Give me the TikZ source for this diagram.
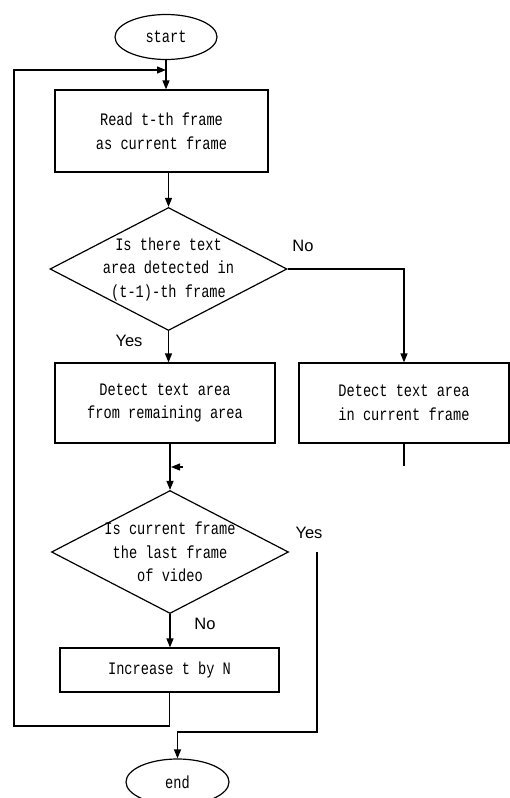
\documentclass[tikz,border=0pt]{standalone}
\usepackage{fontspec}
\setmonofont[FakeStretch=0.78]{Liberation Mono}
\setsansfont{Liberation Sans}
\usetikzlibrary{shapes.geometric,arrows.meta}
\tikzset{my box/.style={draw, line width=1.2pt, inner sep=0pt, align=center, font=\ttfamily\fontsize{17.5}{23.5}\selectfont},
my diamond/.style={draw, line width=1.2pt, diamond, inner sep=0pt, minimum width=237pt, minimum height=123pt},
my diamond text/.style={align=center, font=\ttfamily\fontsize{17.5}{23.5}\selectfont},
my oval/.style={draw, line width=1.2pt, ellipse, inner sep=0pt, minimum width=102pt, minimum height=45pt, font=\ttfamily\fontsize{17.5}{20}\selectfont},
my answer/.style={font=\sffamily\fontsize{16.5}{18}\selectfont},
my line/.style={line width=1.2pt},
my arrow/.style={line width=1.2pt, -{Triangle[length=9pt,width=7pt]}},}

\begin{document}
\begin{tikzpicture}[x=1pt,y=-1pt]
\useasboundingbox (0,0) rectangle (510,798);
\node [my oval] (start) at (166,37) {start};
\node [my box,minimum width=213pt,minimum height=82pt] (read) at (161.5,131) {Read t-th frame\\as current frame};
\node [my diamond,label={[my diamond text]center:Is there text\\area detected in\\(t-1)-th frame}] (q1) at (168.5,269) {};
\node [my box,minimum width=220pt,minimum height=80pt] (remain) at (165,403) {Detect text area\\from remaining area};
\node [my box,minimum width=210pt,minimum height=80pt] (current) at (404,403) {Detect text area\\in current frame};
\node [my diamond,label={[my diamond text]center:Is current frame\\the last frame\\of video}] (q2) at (170,552) {};
\node [my box,minimum width=219pt,minimum height=44pt] (incr) at (169.5,670) {Increase t by N};
\node [my oval,minimum width=103pt,minimum height=46pt] (end) at (177.5,782) {end};
% answers
\node [my answer] (no1) at (303,246) {No};
\node [my answer] (yes1) at (129,341) {Yes};
\node [my answer] (yes2) at (309,533) {Yes};
\node [my answer] (no2) at (205,624) {No};
% free ends
\coordinate (merge1) at (166,70);
\coordinate (looptop) at (14,70);
\coordinate (loopbot) at (14,726);
\coordinate (curend) at (404,466);
\coordinate (mergeR) at (183,467);
\coordinate (merge2) at (171,467);
\coordinate (yestop) at (317,552);
\coordinate (yesbot) at (317,732);
% connectors
\draw [my arrow] (start.south) -- (start.south |- read.north);
\draw [my arrow] (q1.north |- read.south) -- (q1.north);
\draw [my arrow] (q1.east) -| (current.north);
\draw [my arrow] (q1.south) -- (q1.south |- remain.north);
\draw [my arrow] (q2.north |- remain.south) -- (q2.north);
\draw [my line] (current.south) -- (curend);
\draw [my arrow] (mergeR) -- (merge2);
\draw [my arrow] (q2.south) -- (q2.south |- incr.north);
\draw [my arrow] (yestop) -- (yesbot) -| (end.north);
\draw [my arrow] (incr.south) |- (loopbot) -- (looptop) -- (merge1);
\end{tikzpicture}
\end{document}
